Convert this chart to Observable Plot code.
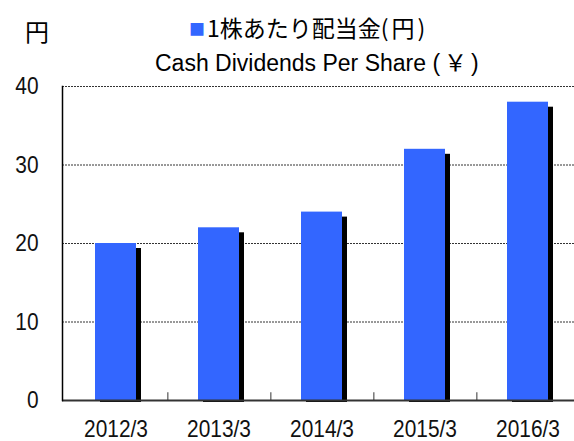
<!DOCTYPE html>
<html>
<head>
<meta charset="utf-8">
<script src="https://cdn.jsdelivr.net/npm/d3@7"></script>
<script src="https://cdn.jsdelivr.net/npm/@observablehq/plot@0.6"></script>
<style>
  html, body { margin: 0; padding: 0; background: #fff; overflow: hidden; }
  #wrap { position: relative; width: 574px; height: 441px; overflow: hidden; }
  .t { position: absolute; white-space: nowrap; color: #000; line-height: 1; }
  #unit { left: 25px; top: 13px; font: 24px "Noto Sans CJK JP", sans-serif; }
  #title1 { left: 189px; top: 10px; font: 23px "Noto Sans CJK JP", sans-serif; }
  #title1 .sq { color: #3366FF; font-size: 16px; vertical-align: 2px; margin-right: 2px; }
  #title1 .par { letter-spacing: 3px; }
  #title2 { left: 155px; top: 44px; font: 23px "Liberation Sans", "Noto Sans CJK JP", sans-serif; }
  #title2 .yen { font-family: "Noto Sans CJK JP", sans-serif; }
  #chart { position: absolute; left: 0; top: 0; }
</style>
</head>
<body>
<div id="wrap">
  <div id="chart"></div>
  <div class="t" id="unit">円</div>
  <div class="t" id="title1"><span class="sq">■</span>1株あたり配当金<span class="par">(円)</span></div>
  <div class="t" id="title2">Cash Dividends Per Share <span style="letter-spacing:4px">(<span class="yen">￥</span>)</span></div>
</div>
<script>
const years = ["2012/3", "2013/3", "2014/3", "2015/3", "2016/3"];
const dividends = [20, 22, 24, 32, 38];
const yTicks = [0, 10, 20, 30, 40];
const gridValues = [10, 20, 30, 40];

const data = years.map((year, i) => ({year, value: dividends[i]}));
const numFont = "'Liberation Sans', Arial, sans-serif";

const xRange = [62, 580];
const step = (xRange[1] - xRange[0]) / years.length;

const chart = Plot.plot({
  width: 574,
  height: 441,
  marginTop: 86,
  marginBottom: 41,
  marginLeft: 62,
  marginRight: 0,
  x: {domain: years, range: xRange, paddingInner: 0.604, paddingOuter: 0.302},
  y: {domain: [0, 40]},
  marks: [
    Plot.ruleY(gridValues, {stroke: "#333", strokeWidth: 1, strokeDasharray: "2,1"}),
    Plot.barY(data, {x: "year", y: "value", fill: "#000", dx: 5, insetTop: 5, insetBottom: -2}),
    Plot.barY(data, {x: "year", y: "value", fill: "#3366FF"}),
    Plot.ruleX(years.slice(0, years.length - 1), {x: d => d, y1: 0, y2: 1, dx: step / 2, stroke: "#777", strokeWidth: 1.5}),
    Plot.ruleY([0], {stroke: "#333", strokeWidth: 2}),
    Plot.frame({anchor: "left", stroke: "#000", strokeWidth: 1.5}),
    Plot.axisY({ticks: yTicks, tickSize: 0, tickPadding: 24, label: null, fontSize: 24, fontFamily: numFont, fill: "#111"}),
    Plot.axisX({tickSize: 0, tickPadding: 19, label: null, fontSize: 24, fontFamily: numFont, fill: "#111"})
  ]
});
document.getElementById("chart").appendChild(chart);

// narrow the numeric labels horizontally around their anchor
const squeeze = 0.87;
chart.querySelectorAll('g[aria-label="y-axis tick label"] text, g[aria-label="x-axis tick label"] text').forEach(t => {
  const bb = t.getBBox();
  const anchor = t.getAttribute("text-anchor") || t.parentNode.getAttribute("text-anchor") ||
    getComputedStyle(t).textAnchor;
  const ax = anchor === "end" ? bb.x + bb.width : anchor === "middle" ? bb.x + bb.width / 2 : bb.x;
  const prev = t.getAttribute("transform") || "";
  t.setAttribute("transform", `${prev} translate(${ax},0) scale(${squeeze},1) translate(${-ax},0)`);
});
</script>
</body>
</html>
